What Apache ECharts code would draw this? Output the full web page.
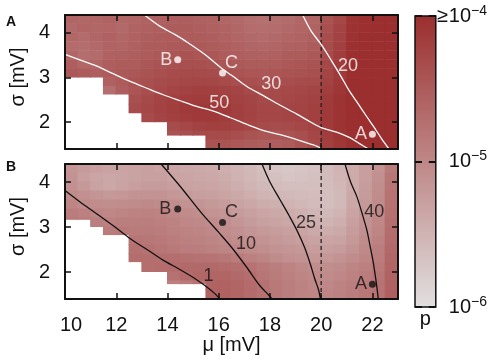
<!DOCTYPE html>
<html><head><meta charset="utf-8">
<script src="https://cdn.jsdelivr.net/npm/echarts@6/dist/echarts.min.js"></script>
<style>html,body{margin:0;padding:0;background:#fff}#c{width:490px;height:362px}</style>
</head><body><div id="c"></div>
<script>
// ---- grid of cells (cell centres) ----
const muCells = [10.25,10.75,11.25,11.75,12.25,12.75,13.25,13.75,14.25,14.75,15.25,15.75,16.25,16.75,17.25,17.75,18.25,18.75,19.25,19.75,20.25,20.75,21.25,21.75,22.25,22.75];
const sigmaCells = [4.3,4.1,3.9,3.7,3.5,3.3,3.1,2.9,2.7,2.5,2.3,2.1,1.9,1.7,1.5];
// lowest sigma with data, per mu column (white region below)
const lowerEdgeA = [3.0,3.0,3.0,2.62,2.62,2.2,1.98,1.98,1.7,1.7,1.7,1.4,1.4,1.4,1.4,1.4,1.4,1.4,1.4,1.4,1.4,1.4,1.4,1.4,1.4,1.4];
const lowerEdgeB = [3.16,3.16,3.0,2.82,2.82,2.22,1.99,1.99,1.73,1.73,1.73,1.4,1.4,1.4,1.4,1.4,1.4,1.4,1.4,1.4,1.4,1.4,1.4,1.4,1.4,1.4];
const N = null;
// log10(p), rows top (sigma 4.3) to bottom (sigma 1.5)
const logpA = [
 [-4.62,-4.64,-4.62,-4.60,-4.64,-4.62,-4.58,-4.56,-4.54,-4.54,-4.56,-4.58,-4.62,-4.66,-4.72,-4.74,-4.72,-4.68,-4.64,-4.62,-4.42,-4.28,-4.06,-4.02,-4.00,-4.00],
 [-4.66,-4.62,-4.64,-4.62,-4.66,-4.60,-4.56,-4.54,-4.52,-4.52,-4.54,-4.56,-4.60,-4.64,-4.70,-4.72,-4.70,-4.66,-4.62,-4.60,-4.38,-4.24,-4.05,-4.02,-4.00,-4.00],
 [-4.64,-4.68,-4.62,-4.58,-4.64,-4.58,-4.54,-4.52,-4.50,-4.50,-4.52,-4.54,-4.58,-4.62,-4.66,-4.68,-4.66,-4.62,-4.60,-4.56,-4.35,-4.22,-4.04,-4.01,-4.00,-4.00],
 [-4.68,-4.72,-4.66,-4.60,-4.62,-4.56,-4.52,-4.50,-4.48,-4.47,-4.48,-4.50,-4.54,-4.58,-4.62,-4.64,-4.62,-4.58,-4.56,-4.52,-4.33,-4.20,-4.03,-4.00,-4.00,-4.00],
 [-4.62,-4.72,-4.68,-4.58,-4.56,-4.54,-4.50,-4.47,-4.44,-4.42,-4.44,-4.46,-4.50,-4.54,-4.56,-4.58,-4.56,-4.52,-4.50,-4.47,-4.31,-4.17,-4.02,-4.00,-4.00,-4.00],
 [-4.54,-4.64,-4.62,-4.54,-4.52,-4.50,-4.46,-4.42,-4.39,-4.37,-4.38,-4.40,-4.44,-4.48,-4.50,-4.52,-4.50,-4.47,-4.44,-4.42,-4.28,-4.15,-4.01,-4.00,-4.00,-4.00],
 [-4.47,-4.52,-4.54,-4.50,-4.48,-4.46,-4.42,-4.38,-4.34,-4.32,-4.32,-4.34,-4.38,-4.42,-4.44,-4.46,-4.44,-4.42,-4.40,-4.38,-4.26,-4.13,-4.01,-4.00,-4.00,-4.00],
 [N,N,N,-4.57,-4.50,-4.42,-4.38,-4.34,-4.30,-4.28,-4.27,-4.28,-4.32,-4.36,-4.38,-4.40,-4.38,-4.36,-4.34,-4.32,-4.23,-4.11,-4.01,-4.00,-4.00,-4.00],
 [N,N,N,-4.72,-4.54,-4.44,-4.36,-4.30,-4.25,-4.22,-4.20,-4.20,-4.22,-4.26,-4.30,-4.32,-4.32,-4.30,-4.28,-4.26,-4.18,-4.09,-4.01,-4.00,-4.00,-4.00],
 [N,N,N,N,N,-4.37,-4.30,-4.24,-4.20,-4.17,-4.16,-4.16,-4.18,-4.22,-4.26,-4.30,-4.30,-4.28,-4.26,-4.22,-4.15,-4.07,-4.01,-4.00,-4.00,-4.00],
 [N,N,N,N,N,-4.34,-4.28,-4.22,-4.18,-4.14,-4.12,-4.12,-4.14,-4.19,-4.24,-4.28,-4.28,-4.26,-4.24,-4.20,-4.13,-4.06,-4.00,-4.00,-4.00,-4.00],
 [N,N,N,N,N,N,-4.32,-4.26,-4.20,-4.16,-4.14,-4.14,-4.16,-4.20,-4.24,-4.28,-4.28,-4.26,-4.24,-4.20,-4.13,-4.06,-4.00,-4.00,-4.00,-4.00],
 [N,N,N,N,N,N,N,N,-4.34,-4.28,-4.22,-4.20,-4.20,-4.24,-4.28,-4.32,-4.34,-4.32,-4.28,-4.22,-4.13,-4.06,-4.01,-4.00,-4.00,-4.00],
 [N,N,N,N,N,N,N,N,-4.42,-4.38,-4.32,-4.32,-4.32,-4.36,-4.42,-4.44,-4.44,-4.42,-4.36,-4.28,-4.17,-4.08,-4.02,-4.00,-4.00,-4.00],
 [N,N,N,N,N,N,N,N,N,N,N,-4.42,-4.42,-4.47,-4.52,-4.54,-4.54,-4.50,-4.42,-4.32,-4.20,-4.10,-4.02,-4.00,-4.00,-4.00]
];
const logpB = [
 [-5.16,-5.22,-5.26,-5.30,-5.32,-5.30,-5.28,-5.30,-5.34,-5.36,-5.38,-5.40,-5.44,-5.50,-5.56,-5.62,-5.68,-5.72,-5.70,-5.66,-5.58,-5.50,-5.40,-5.26,-5.12,-4.85],
 [-5.14,-5.26,-5.34,-5.36,-5.34,-5.30,-5.28,-5.28,-5.32,-5.34,-5.36,-5.38,-5.42,-5.48,-5.54,-5.60,-5.64,-5.68,-5.66,-5.64,-5.58,-5.52,-5.40,-5.26,-5.10,-4.82],
 [-5.10,-5.20,-5.30,-5.36,-5.32,-5.26,-5.22,-5.22,-5.26,-5.30,-5.32,-5.34,-5.38,-5.44,-5.50,-5.56,-5.60,-5.62,-5.62,-5.62,-5.60,-5.54,-5.40,-5.24,-5.08,-4.80],
 [-5.04,-5.10,-5.16,-5.20,-5.18,-5.14,-5.12,-5.14,-5.18,-5.22,-5.26,-5.28,-5.32,-5.38,-5.44,-5.50,-5.54,-5.56,-5.58,-5.60,-5.62,-5.56,-5.38,-5.22,-5.06,-4.78],
 [-4.98,-5.04,-5.06,-5.08,-5.06,-5.04,-5.02,-5.04,-5.08,-5.12,-5.16,-5.20,-5.24,-5.30,-5.36,-5.42,-5.46,-5.50,-5.54,-5.58,-5.62,-5.56,-5.36,-5.20,-5.04,-4.76],
 [-4.88,-4.92,-4.98,-5.00,-4.98,-4.96,-4.94,-4.96,-5.00,-5.04,-5.08,-5.12,-5.16,-5.22,-5.28,-5.34,-5.38,-5.42,-5.46,-5.52,-5.56,-5.50,-5.32,-5.16,-5.02,-4.74],
 [-4.84,-4.86,-4.90,-4.92,-4.90,-4.90,-4.90,-4.92,-4.96,-5.00,-5.02,-5.06,-5.10,-5.16,-5.22,-5.28,-5.32,-5.36,-5.40,-5.46,-5.50,-5.44,-5.28,-5.14,-5.00,-4.72],
 [N,N,N,-4.86,-4.84,-4.86,-4.86,-4.88,-4.92,-4.96,-4.98,-5.02,-5.06,-5.10,-5.16,-5.20,-5.24,-5.28,-5.32,-5.38,-5.42,-5.38,-5.24,-5.10,-4.98,-4.70],
 [N,N,N,N,N,-4.80,-4.82,-4.84,-4.88,-4.92,-4.94,-4.98,-5.02,-5.06,-5.10,-5.14,-5.18,-5.22,-5.26,-5.30,-5.34,-5.30,-5.20,-5.06,-4.94,-4.68],
 [N,N,N,N,N,-4.74,-4.76,-4.80,-4.84,-4.88,-4.90,-4.94,-4.98,-5.00,-5.04,-5.08,-5.12,-5.16,-5.20,-5.24,-5.26,-5.22,-5.14,-5.02,-4.90,-4.66],
 [N,N,N,N,N,-4.72,-4.72,-4.72,-4.72,-4.74,-4.76,-4.78,-4.82,-4.86,-4.92,-4.98,-5.04,-5.10,-5.14,-5.18,-5.18,-5.14,-5.06,-4.98,-4.88,-4.64],
 [N,N,N,N,N,N,-4.72,-4.70,-4.68,-4.66,-4.66,-4.66,-4.68,-4.72,-4.78,-4.84,-4.90,-4.96,-5.02,-5.06,-5.08,-5.04,-4.98,-4.92,-4.84,-4.62],
 [N,N,N,N,N,N,N,N,-4.76,-4.68,-4.64,-4.62,-4.62,-4.66,-4.72,-4.80,-4.86,-4.92,-4.98,-5.02,-5.04,-5.00,-4.94,-4.88,-4.80,-4.60],
 [N,N,N,N,N,N,N,N,-4.92,-4.86,-4.76,-4.60,-4.58,-4.62,-4.68,-4.76,-4.84,-4.90,-4.96,-5.00,-5.00,-4.96,-4.90,-4.84,-4.78,-4.58],
 [N,N,N,N,N,N,N,N,N,N,N,-4.60,-4.58,-4.62,-4.68,-4.76,-4.84,-4.90,-4.96,-4.98,-4.98,-4.94,-4.88,-4.82,-4.76,-4.55]
];
// ---- marked points ----
const pointNames = ['A','B','C'];
const pointMu = [22.0, 14.4, 16.15];
const pointSigma = [1.73, 3.4, 3.1];
// ---- contour lines (mu, sigma) ----
const contourA20 = [[19.28,4.4],[19.6,4.05],[20.0,3.74],[20.4,3.38],[20.75,3.05],[21.1,2.7],[21.4,2.45],[21.75,2.15],[22.05,1.9],[22.35,1.64],[22.65,1.4]];
const contourA30 = [[13.1,4.4],[13.7,4.15],[14.3,3.96],[14.72,3.81],[15.5,3.5],[16.15,3.19],[16.5,3.05],[17.1,2.8],[17.76,2.59],[18.4,2.38],[19.05,2.18],[19.6,2.0],[20.0,1.88],[20.6,1.78],[21.1,1.66],[21.5,1.52],[21.85,1.4]];
const contourA50 = [[10.0,3.52],[10.6,3.39],[11.22,3.26],[11.9,3.08],[12.52,2.92],[13.2,2.76],[13.81,2.62],[14.5,2.48],[15.11,2.36],[15.8,2.25],[16.46,2.1],[17.1,1.95],[17.76,1.81],[18.4,1.72],[19.0,1.62],[19.7,1.49],[20.05,1.4]];
const contourB1 = [[10.0,3.81],[10.6,3.55],[11.22,3.30],[11.9,3.02],[12.52,2.75],[13.2,2.5],[13.81,2.27],[14.5,2.05],[15.11,1.84],[15.6,1.64],[15.85,1.52],[16.05,1.4]];
const contourB10 = [[13.75,4.4],[14.5,3.9],[15.3,3.33],[16.0,2.88],[16.5,2.55],[17.1,2.1],[17.6,1.7],[17.95,1.49],[18.08,1.4]];
const contourB25 = [[17.69,4.4],[18.0,4.0],[18.4,3.6],[18.75,3.25],[19.05,2.93],[19.35,2.55],[19.57,2.19],[19.75,1.85],[19.9,1.6],[19.97,1.4]];
const contourB40 = [[20.93,4.4],[21.15,4.0],[21.39,3.68],[21.6,3.3],[21.78,2.94],[21.92,2.55],[22.04,2.19],[22.16,1.73],[22.23,1.4]];
const contourLabelsA = [{t:'20',mu:21.05,s:3.25},{t:'30',mu:18.05,s:2.86},{t:'50',mu:16.02,s:2.42}];
const contourLabelsB = [{t:'1',mu:15.6,s:1.9},{t:'10',mu:17.07,s:2.62},{t:'25',mu:19.41,s:3.08},{t:'40',mu:22.07,s:3.33}];
const dashedMu = 20;
// ---- axes ----
const muTicks = [10,12,14,16,18,20,22];
const sigmaTicks = [2,3,4];
const colorbarExps = [-6,-5,-4];

const FONT = "'Liberation Sans', Arial, Helvetica, sans-serif";
const INK = '#111';
const HALF_MU = 0.25, HALF_SIG = 0.1;
const LOW_COLOR = '#e2e0e0', HIGH_COLOR = '#9b2e2e';

function cells(logp, lower) {
  const out = [];
  logp.forEach((row, r) => row.forEach((v, c) => {
    if (v !== null) out.push([muCells[c], sigmaCells[r], lower[c], v]);
  }));
  return out;
}
function renderCell(params, api) {
  const x = api.value(0), y = api.value(1), lo = api.value(2);
  const y0 = Math.max(y - HALF_SIG, lo);
  if (y0 >= y + HALF_SIG) return null;
  const p1 = api.coord([x - HALF_MU, y + HALF_SIG]);
  const p2 = api.coord([x + HALF_MU, y0]);
  return {type:'rect', shape:{x:p1[0]-0.5, y:p1[1]-0.5, width:p2[0]-p1[0]+1, height:p2[1]-p1[1]+0.5},
    style:{fill: api.visual('color')}};
}
function xAxis(grid, pos, labels, name) {
  return {type:'value', gridIndex:grid, position:pos, min:10, max:23, z:10,
    name: name || '', nameLocation:'middle', nameGap:35,
    nameTextStyle:{fontFamily:FONT, fontSize:20, color:INK},
    axisLine:{show:true, onZero:false, lineStyle:{color:INK, width:2}},
    axisTick:{show:true, inside:true, length:6, customValues:muTicks.slice(1), lineStyle:{color:INK, width:1.5}},
    axisLabel:{show:labels, customValues:muTicks, margin:16, fontFamily:FONT, fontSize:20, color:INK,
      formatter: v => v === muTicks[0] ? '{f|' + v + '}' : '' + v,
      rich:{f:{fontFamily:FONT, fontSize:20, color:INK, padding:[0,0,0,12]}}},
    splitLine:{show:false}};
}
function yAxis(grid, pos, labels) {
  return {type:'value', gridIndex:grid, position:pos, min:1.4, max:4.4, z:10,
    name: labels ? 'σ [mV]' : '', nameLocation:'middle', nameGap:35, nameRotate:90,
    nameTextStyle:{fontFamily:FONT, fontSize:20, color:INK, padding:[0,0,0,10]},
    axisLine:{show:true, onZero:false, lineStyle:{color:INK, width:2}},
    axisTick:{show:true, inside:true, length:6, customValues:sigmaTicks, lineStyle:{color:INK, width:1.5}},
    axisLabel:{show:labels, customValues:sigmaTicks, margin:15, fontFamily:FONT, fontSize:20, color:INK},
    splitLine:{show:false}};
}
function panelSeries(idx, logp, lower, lineColor, dotColor, contours, labels) {
  const s = [];
  s.push({type:'custom', xAxisIndex:idx*2, yAxisIndex:idx*2, renderItem:renderCell, clip:true, z:1,
    data:cells(logp, lower), silent:true});
  s.push({type:'line', xAxisIndex:idx*2, yAxisIndex:idx*2, data:[[dashedMu,1.4],[dashedMu,4.4]], symbol:'none', z:3,
    lineStyle:{color:'#222', width:1.3, type:[4,3]}, silent:true});
  contours.forEach(c => s.push({type:'line', xAxisIndex:idx*2, yAxisIndex:idx*2, data:c, symbol:'none', smooth:0.3, z:4,
    lineStyle:{color:lineColor, width:1.3}, silent:true}));
  s.push({type:'scatter', xAxisIndex:idx*2, yAxisIndex:idx*2, symbolSize:1, z:6, itemStyle:{color:'rgba(0,0,0,0)'},
    data:labels.map(l => ({name:l.t, value:[l.mu, l.s]})),
    label:{show:true, position:'inside', formatter:'{b}', fontFamily:FONT, fontSize:18, color:lineColor}, silent:true});
  const lab = {
    A:{position:'left', distance:2, offset:[0,0]},
    B:{position:'left', distance:idx ? 3 : 2, offset:[0,0]},
    C:{position:'right', distance:-1, offset:[0,-10]}
  };
  s.push({type:'scatter', xAxisIndex:idx*2, yAxisIndex:idx*2, symbolSize:7, z:5, itemStyle:{color:dotColor},
    data:pointNames.map((n,i) => ({name:n, value:[pointMu[i], pointSigma[i]],
      label:Object.assign({show:true, formatter:'{b}', fontFamily:FONT, fontSize:18, color:lineColor}, lab[n])})),
    silent:true});
  return s;
}

const seriesA = panelSeries(0, logpA, lowerEdgeA, '#ffffff', '#ffffff', [contourA20, contourA30, contourA50], contourLabelsA);
const seriesB = panelSeries(1, logpB, lowerEdgeB, '#111111', '#111111', [contourB1, contourB10, contourB25, contourB40], contourLabelsB);

const chart = echarts.init(document.getElementById('c'), null, {renderer:'canvas'});
chart.setOption({
  animation:false,
  backgroundColor:'#fff',
  title:[
    {text:'A', left:1, top:10, textStyle:{fontFamily:FONT, fontSize:14, fontWeight:'bold', color:INK}},
    {text:'B', left:1, top:155, textStyle:{fontFamily:FONT, fontSize:14, fontWeight:'bold', color:INK}}
  ],
  grid:[
    {left:64, top:15, width:334, height:134},
    {left:64, top:164, width:334, height:135},
    {left:415, top:16, width:21, height:291, show:true, borderColor:INK, borderWidth:1.5,
      backgroundColor:{type:'linear', x:0, y:0, x2:0, y2:1, colorStops:[{offset:0,color:HIGH_COLOR},{offset:1,color:LOW_COLOR}]}}
  ],
  visualMap:{type:'continuous', show:false, min:-6, max:-4, dimension:3, seriesIndex:[0, seriesA.length],
    inRange:{color:[LOW_COLOR, HIGH_COLOR]}},
  xAxis:[
    xAxis(0,'bottom',false), xAxis(0,'top',false),
    xAxis(1,'bottom',true,'μ [mV]'), xAxis(1,'top',false),
    {type:'value', gridIndex:2, min:0, max:1, axisLine:{show:false}, axisTick:{show:false}, axisLabel:{show:false},
      splitLine:{show:false}, name:'p', nameLocation:'middle', nameGap:2,
      nameTextStyle:{fontFamily:FONT, fontSize:20, color:INK}}
  ],
  yAxis:[
    yAxis(0,'left',true), yAxis(0,'right',false),
    yAxis(1,'left',true), yAxis(1,'right',false),
    {type:'value', gridIndex:2, position:'left', min:-6, max:-4, interval:1, z:10,
      axisLine:{show:false}, axisTick:{show:true, inside:true, length:7, lineStyle:{color:INK, width:2}},
      axisLabel:{show:false}, splitLine:{show:false}},
    {type:'value', gridIndex:2, position:'right', min:-6, max:-4, interval:1, z:10,
      axisLine:{show:false}, axisTick:{show:true, inside:true, length:7, lineStyle:{color:INK, width:2}},
      splitLine:{show:false},
      axisLabel:{show:true, margin:1, color:INK,
        formatter: v => (v === colorbarExps[2] ? '{g|≥}' : '{sp| }') + '{b|10}{s|−' + Math.abs(v) + '}',
        rich:{
          g:{fontFamily:FONT, fontSize:20, color:INK, width:12},
          sp:{fontFamily:FONT, fontSize:20, width:12},
          b:{fontFamily:FONT, fontSize:20, color:INK, lineHeight:24},
          s:{fontFamily:FONT, fontSize:14, color:INK, verticalAlign:'top', lineHeight:14}
        }}}
  ],
  series:[].concat(seriesA, seriesB)
});
</script></body></html>
